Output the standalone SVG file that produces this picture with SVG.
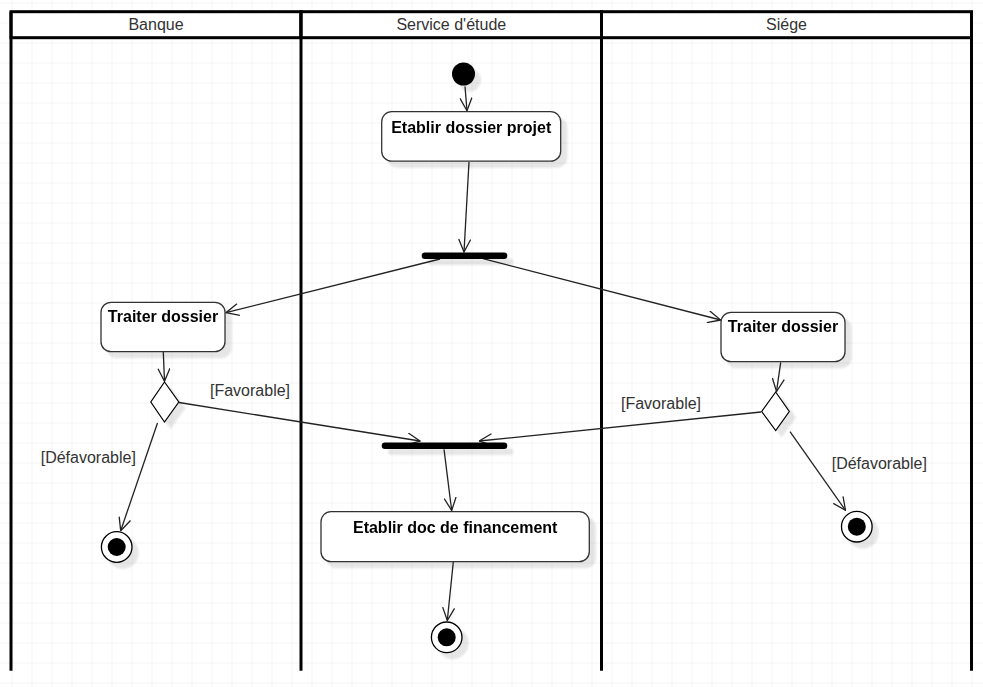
<svg xmlns="http://www.w3.org/2000/svg" width="983" height="687" viewBox="0 0 983 687">
<style>
.lbl{font-family:"Liberation Sans",Arial,sans-serif;font-size:16px;fill:#333}
.hdr{font-family:"Liberation Sans",Arial,sans-serif;font-size:16px;fill:#333;text-anchor:middle}
.act{font-family:"Liberation Sans",Arial,sans-serif;font-size:16px;font-weight:bold;fill:#000;text-anchor:middle}
.box{fill:#fff;stroke:#333;stroke-width:1.3}
.lane{fill:none;stroke:#000;stroke-width:3}
.edge{fill:none;stroke:#222;stroke-width:1.3;marker-end:url(#arr)}
</style>
<defs>
<pattern id="grid" x="11.5" y="2.5" width="20" height="20" patternUnits="userSpaceOnUse">
<path d="M20 0H0V20" fill="none" stroke="#ebebeb" stroke-width="1"/>
</pattern>
<filter id="sh" x="-10%" y="-100%" width="150%" height="400%">
<feGaussianBlur in="SourceAlpha" stdDeviation="1.2" result="b"/>
<feOffset in="b" dx="6" dy="6" result="o"/>
<feComponentTransfer in="o" result="s"><feFuncA type="linear" slope="0.1"/></feComponentTransfer>
<feMerge><feMergeNode in="s"/><feMergeNode in="SourceGraphic"/></feMerge>
</filter>
<marker id="arr" viewBox="0 0 14 13" refX="13.3" refY="6.5" markerWidth="14" markerHeight="13" markerUnits="userSpaceOnUse" orient="auto">
<path d="M0.5 0.5L13.3 6.5L0.5 12.5" fill="none" stroke="#222" stroke-width="1.3"/>
</marker>
</defs>
<rect width="983" height="687" fill="#fff"/>
<rect width="983" height="687" fill="url(#grid)"/>

<g id="lanes">
<g id="lane-banque">
<rect x="11" y="11.7" width="290" height="26" fill="#fff" stroke="#000" stroke-width="3"/>
<line class="lane" x1="11" y1="11.7" x2="11" y2="670.7"/>
<text class="hdr" x="156" y="30">Banque</text>
</g>
<g id="lane-service">
<rect x="301" y="11.7" width="300.5" height="26" fill="#fff" stroke="#000" stroke-width="3"/>
<line class="lane" x1="301" y1="11.7" x2="301" y2="670.7"/>
<text class="hdr" x="451.3" y="30">Service d'étude</text>
</g>
<g id="lane-siege">
<rect x="601.5" y="11.7" width="370" height="26" fill="#fff" stroke="#000" stroke-width="3"/>
<line class="lane" x1="601.5" y1="11.7" x2="601.5" y2="670.7"/>
<line class="lane" x1="971.5" y1="11.7" x2="971.5" y2="670.7"/>
<text class="hdr" x="786.5" y="30">Siége</text>
</g>
</g>

<g id="connectors">
<line class="edge" x1="465" y1="86.5" x2="467" y2="110.7"/>
<line class="edge" x1="469" y1="162" x2="464" y2="252"/>
<line class="edge" x1="440" y1="259" x2="226" y2="312.7"/>
<line class="edge" x1="483" y1="258.7" x2="720.7" y2="320"/>
<line class="edge" x1="163.3" y1="352" x2="164.5" y2="381.3"/>
<line class="edge" x1="780.7" y1="362.3" x2="776.5" y2="391.5"/>
<line class="edge" x1="179" y1="402.5" x2="420" y2="441"/>
<line class="edge" x1="761" y1="412" x2="479.3" y2="441"/>
<line class="edge" x1="157.5" y1="423" x2="120.7" y2="530.7"/>
<line class="edge" x1="790" y1="431.7" x2="845.5" y2="510.3"/>
<line class="edge" x1="444" y1="449.3" x2="451.7" y2="510.5"/>
<line class="edge" x1="453.3" y1="562" x2="447.3" y2="620.5"/>
<text class="lbl" x="210" y="396">[Favorable]</text>
<text class="lbl" x="40.7" y="463">[Défavorable]</text>
<text class="lbl" x="621" y="408.5">[Favorable]</text>
<text class="lbl" x="831.7" y="469">[Défavorable]</text>
</g>

<g id="start" filter="url(#sh)">
<circle cx="463.5" cy="74" r="11.5" fill="#000"/>
</g>
<g id="etablir-dossier-projet" filter="url(#sh)">
<rect class="box" x="381.7" y="111.7" width="179" height="49.5" rx="10"/>
<text class="act" x="471.2" y="132.7">Etablir dossier projet</text>
</g>
<g id="fork" filter="url(#sh)">
<rect x="421.7" y="252.5" width="85.6" height="6.4" rx="3.2" fill="#000"/>
</g>
<g id="traiter-dossier-banque" filter="url(#sh)">
<rect class="box" x="101" y="302.3" width="124" height="49.4" rx="10"/>
<text class="act" x="163" y="322.3">Traiter dossier</text>
</g>
<g id="traiter-dossier-siege" filter="url(#sh)">
<rect class="box" x="721" y="312.3" width="124" height="49.4" rx="10"/>
<text class="act" x="783" y="332.3">Traiter dossier</text>
</g>
<g id="decision-banque" filter="url(#sh)">
<polygon points="164.5,382 178.8,402 164.5,422 150.8,402" fill="#fff" stroke="#000" stroke-width="1.2"/>
</g>
<g id="decision-siege" filter="url(#sh)">
<polygon points="775.7,392 789.3,411.5 775.7,430.5 761.7,411.5" fill="#fff" stroke="#000" stroke-width="1.2"/>
</g>
<g id="join" filter="url(#sh)">
<rect x="381.7" y="442.4" width="125.6" height="6.6" rx="3.3" fill="#000"/>
</g>
<g id="etablir-doc-financement" filter="url(#sh)">
<rect class="box" x="321" y="511.7" width="268.3" height="50" rx="10"/>
<text class="act" x="455.2" y="532.7">Etablir doc de financement</text>
</g>
<g id="end-banque" filter="url(#sh)">
<circle cx="116.7" cy="547" r="15.3" fill="#fff" stroke="#000" stroke-width="1.3"/>
<circle cx="116.7" cy="547" r="9" fill="#000"/>
</g>
<g id="end-siege" filter="url(#sh)">
<circle cx="856.8" cy="526.7" r="15.3" fill="#fff" stroke="#000" stroke-width="1.3"/>
<circle cx="856.8" cy="526.7" r="9" fill="#000"/>
</g>
<g id="end-service" filter="url(#sh)">
<circle cx="446.7" cy="637.3" r="15.3" fill="#fff" stroke="#000" stroke-width="1.3"/>
<circle cx="446.7" cy="637.3" r="9" fill="#000"/>
</g>
</svg>
